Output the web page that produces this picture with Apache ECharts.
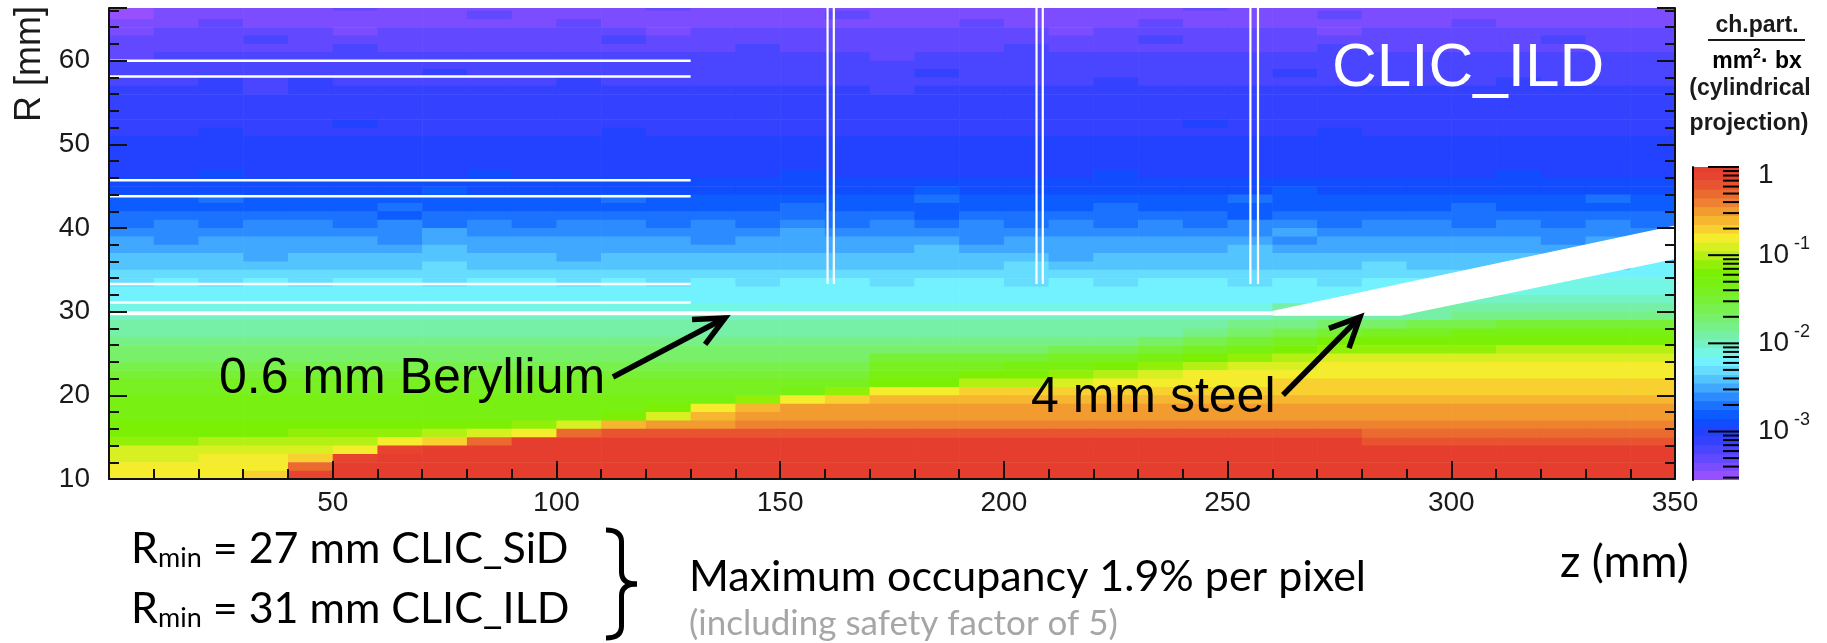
<!DOCTYPE html>
<html>
<head>
<meta charset="utf-8">
<title>CLIC_ILD occupancy</title>
<script src="https://cdn.jsdelivr.net/npm/echarts@6.0.0/dist/echarts.min.js"></script>
<style>
  html, body { margin: 0; padding: 0; background: #fff; }
  #chart { width: 1827px; height: 643px; }
</style>
</head>
<body>
<div id="chart"></div>
<script>
// z bin edges (mm)
const zEdges = [0, 10, 20, 30, 40, 50, 60, 70, 80, 90, 100, 110, 120, 130, 140, 150, 160, 170,
  180, 190, 200, 210, 220, 230, 240, 250, 260, 270, 280, 290, 300, 310, 320, 330, 340, 350];

// one char per z bin, '0' = 10^-3.5 ... 'z' = 1 (steps of 0.1 decade)
const levelCodes = '0123456789abcdefghijklmnopqrstuvwxyz';

// [R low edge (mm), levels along z]
const levelRows = [
  [66, '01111 21111 11211 11111 11112 11111 11111'],
  [65, '01111 11121 11111 12111 11111 11211 11111'],
  [64, '11211 11111 21111 11112 11121 11111 21111'],
  [63, '12222 12222 22122 22222 21222 22122 22222'],
  [62, '22232 22222 23222 22222 22232 22222 22322'],
  [61, '22222 32222 22223 22222 32222 22322 22222'],
  [60, '23333 33333 33333 33233 33333 33333 33333'],
  [59, '33333 33333 33333 33333 33333 33333 33333'],
  [58, '33333 33433 33333 33343 33333 34333 33333'],
  [57, '33434 33333 43333 33333 33433 33333 34333'],
  [56, '44434 44444 44444 44344 44444 44444 44444'],
  [55, '44444 44444 44444 44444 44444 44444 44444'],
  [54, '44444 44444 44444 44444 44444 44444 44444'],
  [53, '44444 44444 44444 44444 44444 44444 44444'],
  [52, '44444 54444 44444 44444 44445 44444 44444'],
  [51, '44544 44444 45444 44444 44444 44544 44444'],
  [50, '55555 55555 55555 55555 55555 55555 55555'],
  [49, '55555 55555 55555 55555 55555 55555 55555'],
  [48, '55555 55555 55555 55555 55555 55555 55555'],
  [47, '55555 55555 55555 55555 55555 55555 55555'],
  [46, '55655 55565 55555 65555 55655 55555 56555'],
  [45, '66666 66666 66666 66666 66666 66666 66666'],
  [44, '66666 66766 66666 66676 66666 67666 66666'],
  [43, '77877 77777 78777 77787 77777 87777 77787'],
  [42, '77777 78777 77777 87777 77877 77777 87777'],
  [41, '88888 87888 88888 88878 88888 78888 88888'],
  [40, '89899 89898 99898 98989 89898 99899 89898'],
  [39, '99999 99a99 99999 a9999 99999 9a999 99999'],
  [38, 'a9aaa a9aaa aaa9a aaaa9 aaaaa a9aaa aa9aa'],
  [37, 'aaaaa aabaa aaaaa aaaba aaaaa baaaa aaaab'],
  [36, 'bbbab bbbbb abbbb bbbbb babbb bbbbb bbabb'],
  [35, 'bbbbb bbcbb bbbbb bbbbb cbbbb bbbcb bbbbd'],
  [34, 'ccccc ccccc ccccc ccccc ccccc ccccc cccdd'],
  [33, 'cdcdc ddcdd cdcdc ddcdd cdcdd cdcdd ddeee'],
  [32, 'ddddd ddddd ddddd ddddd ddddd ddddd deeee'],
  [31, 'ddddd ddddd ddddd ddddd ddddd ddddf fffff'],
  [30, 'eeeee eeeee eeeee eeeee eeeee egggg ggggg'],
  [29, 'fffff fffff fffff fffff fffff fgggg hhhhh'],
  [28, 'ggggg ggggg ggggg ggggg ggggg hhiij jkkkk'],
  [27, 'ggggg ggggg ggggg ggggg ggggh ijkll mmmmm'],
  [26, 'hhhhh hhhhh hhhhh hhhhh hhhij klnnn nnnnn'],
  [25, 'iiiii iiiii iiiii iiiii ijjkl mnooo opppp'],
  [24, 'iiiii iiiii iiiii iikkk kllmn opqqq qqqqq'],
  [23, 'jjjjj jjjjj jjjjj jjlll mmnop qqrrr rrrrr'],
  [22, 'kkkkk kkkkk kkkkk kkmmn nopqr rrrrr rrrrr'],
  [21, 'lllll lllll lllll llnnp pqrrr rssss sssss'],
  [20, 'lllll lllll lllll morrs sssss sssss sssss'],
  [19, 'mmmmm mmmmm mmmmo rsttt ttttt ttttt ttttt'],
  [18, 'mmmmm mmmmm mmnrt uuuuu uuuuu uuuuu uuuuu'],
  [17, 'mmmmm mmmmm mnqtu uuuuu uuuuu uuuuu uuuuu'],
  [16, 'nnnnn nnnno qtuuv vvvvv vvvvv vvvvv vvvvv'],
  [15, 'nnnno oopqr wxxxx xxxxx xxxxx xxxww wwwww'],
  [14, 'ooppp prswz zzzzz zzzzz zzzzz zzzxx xxxxx'],
  [13, 'qqqqq ryzzz zzzzz zzzzz zzzzz zzzzz zzzzz'],
  [12, 'qqrrs yzzzz zzzzz zzzzz zzzzz zzzzz zzzzz'],
  [11, 'rrrrw zzzzz zzzzz zzzzz zzzzz zzzzz zzzzz'],
  [10, 'rrrsy zzzzz zzzzz zzzzz zzzzz zzzzz zzzzz']
];

// ROOT-like rainbow, one colour per level char
const paletteColors = [
  '#9650ff', '#7c4dff', '#6249ff', '#4a45ff', '#3442ff', '#2242ff', '#124cff', '#0c5cff',
  '#1a72ff', '#2c8cff', '#40a8ff', '#54c4ff', '#66dcff', '#72f2ff', '#74f6e4', '#74f2c4',
  '#76f0a6', '#78f088', '#78f06a', '#78f04e', '#78f036', '#78f022', '#78f012', '#7cf004',
  '#92f008', '#b4f014', '#d8f022', '#f4ec2c', '#f8d030', '#f6b630', '#f29c30', '#ee8230',
  '#ea6a30', '#e85430', '#e6442f', '#e63e2e'
];
const scaleMin = -3.55;  // log10 at the bottom of the colour bar

// detector material, drawn in white
const layerR = [60.0, 58.1, 45.7, 43.8, 33.3, 31.1];
const layerZEnd = 130;
const diskZ = [160.6, 162.0, 207.3, 208.7, 255.1, 256.8];
const diskRMin = 33.3;
const pipeR = 29.8;
const pipeZEnd = 260.2;
const coneZ = [260.2, 350, 350, 288.6, 260.2];
const coneR = [30.1, 40.3, 36.3, 29.5, 29.5];

const rMin = 10;
const rMax = 66.3;

// colour bar ticks
const scaleMajor = [0, -1, -2, -3];
const scaleExp = ['', '-1', '-2', '-3'];

const cells = [];
levelRows.forEach(([r, codes]) => {
  const row = codes.replace(/ /g, '');
  for (let c = 0; c < zEdges.length - 1; c++) {
    cells.push([zEdges[c], zEdges[c + 1], r, r + 1, levelCodes.indexOf(row[c])]);
  }
});

const barCells = paletteColors.map((color, i) => {
  const lo = scaleMin + i * 0.1;
  return [0, 1, lo, lo + 0.1, i];
});

const scaleTicks = scaleMajor.map((v, i) => [v, 1, i]);
for (let d = -4; d < 0; d++) {
  for (let k = 2; k <= 9; k++) {
    const v = d + Math.log10(k);
    if (v > scaleMin && v < 0) scaleTicks.push([v, 0, -1]);
  }
}

const layerSegs = layerR.map(r => [0, r, layerZEnd, r]);
const diskSegs = diskZ.map(z => [z, diskRMin, z, rMax]);
const pipeSegs = [[0, pipeR, pipeZEnd, pipeR]];

const helv = 'Liberation Sans';
const slide = 'Lato';
const ink = '#1a1a1a';

function renderCell(params, api) {
  const p0 = api.coord([api.value(0), api.value(2)]);
  const p1 = api.coord([api.value(1), api.value(3)]);
  return {
    type: 'rect',
    shape: { x: p0[0], y: p1[1], width: p1[0] - p0[0] + 0.6, height: p0[1] - p1[1] + 0.6 },
    style: { fill: api.visual('color') }
  };
}

function segmentRenderer(width) {
  return function (params, api) {
    const a = api.coord([api.value(0), api.value(1)]);
    const b = api.coord([api.value(2), api.value(3)]);
    return {
      type: 'line',
      shape: { x1: a[0], y1: a[1], x2: b[0], y2: b[1] },
      style: { stroke: '#fff', lineWidth: width }
    };
  };
}

function renderCone(params, api) {
  const pts = coneZ.map((z, i) => api.coord([z, coneR[i]]));
  return { type: 'polygon', shape: { points: pts }, style: { fill: '#fff' } };
}

function renderScaleTick(params, api) {
  const v = api.value(0);
  const major = api.value(1) === 1;
  const p = api.coord([1, v]);
  const len = major ? 31 : 16;
  const children = [{
    type: 'line',
    shape: { x1: p[0] - len, y1: p[1], x2: p[0], y2: p[1] },
    style: { stroke: '#000', lineWidth: 2 }
  }];
  if (major) {
    const exp = scaleExp[api.value(2)];
    if (exp === '') {
      children.push({ type: 'text', x: p[0] + 19, y: p[1] + 8,
        style: { text: '1', fontFamily: helv, fontSize: 28, fill: ink, verticalAlign: 'middle' } });
    } else {
      children.push({ type: 'text', x: p[0] + 19, y: p[1],
        style: { text: '10', fontFamily: helv, fontSize: 28, fill: ink, verticalAlign: 'middle' } });
      children.push({ type: 'text', x: p[0] + 55, y: p[1] - 11,
        style: { text: exp, fontFamily: helv, fontSize: 18, fill: ink, verticalAlign: 'middle' } });
    }
  }
  return { type: 'group', children };
}

function arrow(from, to) {
  const dx = to[0] - from[0], dy = to[1] - from[1];
  const len = Math.hypot(dx, dy);
  const bx = -dx / len, by = -dy / len;
  const head = 33, a = 0.44;
  const arm = s => [to[0] + head * (bx * Math.cos(s * a) - by * Math.sin(s * a)),
                    to[1] + head * (bx * Math.sin(s * a) + by * Math.cos(s * a))];
  const style = { stroke: '#000', lineWidth: 5.5, fill: null, lineJoin: 'miter' };
  return {
    type: 'group',
    children: [
      { type: 'polyline', z: 60, shape: { points: [from, to] }, style },
      { type: 'polyline', z: 60, shape: { points: [arm(1), to, arm(-1)] }, style }
    ]
  };
}

// right curly brace: x from left to tip, y from top to bottom
function brace(x0, x1, y0, y1) {
  const xm = (x0 + x1) / 2, ym = (y0 + y1) / 2, r = 12;
  const style = { stroke: '#000', lineWidth: 5, fill: null };
  const seg = shape => ({ type: shape.cpx1 === undefined ? 'line' : 'bezierCurve', z: 60, shape, style });
  return {
    type: 'group',
    children: [
      seg({ x1: x0, y1: y0, cpx1: xm, cpy1: y0, x2: xm, y2: y0 + r }),
      seg({ x1: xm, y1: y0 + r, x2: xm, y2: ym - r }),
      seg({ x1: xm, y1: ym - r, cpx1: xm, cpy1: ym, x2: x1, y2: ym }),
      seg({ x1: x1, y1: ym, cpx1: xm, cpy1: ym, x2: xm, y2: ym + r }),
      seg({ x1: xm, y1: ym + r, x2: xm, y2: y1 - r }),
      seg({ x1: xm, y1: y1 - r, cpx1: xm, cpy1: y1, x2: x0, y2: y1 })
    ]
  };
}

function rminLine(text, y) {
  return {
    type: 'text', z: 50, x: 131, y: y,
    style: {
      text: '{r|R}{s|min}{r|' + text + '}', verticalAlign: 'top',
      rich: {
        r: { fontFamily: slide, fontSize: 43, color: '#000', lineHeight: 44, verticalAlign: 'top' },
        s: { fontFamily: slide, fontSize: 27, color: '#000', lineHeight: 27, padding: [28, 0, 0, 0], verticalAlign: 'bottom' }
      }
    }
  };
}

const axisCommon = {
  z: 10,
  splitLine: { show: false },
  axisLine: { show: true, onZero: false, lineStyle: { color: '#111', width: 2 } },
  axisTick: { inside: true, length: 18, lineStyle: { color: '#111', width: 2 } },
  minorTick: { show: true, splitNumber: 5, length: 10, lineStyle: { color: '#111', width: 2 } }
};

const chart = echarts.init(document.getElementById('chart'));
chart.setOption({
  animation: false,
  backgroundColor: '#fff',
  grid: [
    { left: 109, top: 8, width: 1566, height: 471, outerBoundsMode: 'none' },
    { left: 1693, top: 167, width: 46, height: 313, outerBoundsMode: 'none' }
  ],
  xAxis: [
    Object.assign({}, axisCommon, {
      type: 'value', gridIndex: 0, min: 0, max: 350, interval: 50,
      axisLabel: { showMinLabel: false, margin: 10, fontSize: 28, color: ink, fontFamily: helv }
    }),
    { type: 'value', gridIndex: 1, min: 0, max: 1, show: false }
  ],
  yAxis: [
    Object.assign({}, axisCommon, {
      type: 'value', gridIndex: 0, min: rMin, max: rMax, interval: 10,
      axisLabel: { showMaxLabel: false, margin: 19, fontSize: 28, color: ink, fontFamily: helv }
    }),
    Object.assign({}, axisCommon, {
      type: 'value', gridIndex: 0, position: 'right', min: rMin, max: rMax, interval: 10,
      axisLabel: { show: false }
    }),
    {
      type: 'value', gridIndex: 1, position: 'right', min: scaleMin, max: 0, z: 10,
      axisLine: { show: true, lineStyle: { color: '#000', width: 2 } },
      axisTick: { show: false }, axisLabel: { show: false }, splitLine: { show: false }
    }
  ],
  visualMap: {
    type: 'piecewise', show: false, dimension: 4, seriesIndex: [0, 1],
    pieces: paletteColors.map((color, i) => ({ value: i, color }))
  },
  series: [
    { type: 'custom', name: 'occupancy', xAxisIndex: 0, yAxisIndex: 0, clip: true, silent: true,
      encode: { x: [0, 1], y: [2, 3] }, renderItem: renderCell, data: cells },
    { type: 'custom', name: 'scale', xAxisIndex: 1, yAxisIndex: 2, clip: true, silent: true,
      encode: { x: [0, 1], y: [2, 3] }, renderItem: renderCell, data: barCells },
    { type: 'custom', name: 'scale ticks', xAxisIndex: 1, yAxisIndex: 2, silent: true, z: 12,
      encode: { y: 0 }, renderItem: renderScaleTick, data: scaleTicks },
    { type: 'custom', name: 'layers', xAxisIndex: 0, yAxisIndex: 0, clip: true, silent: true, z: 5,
      encode: { x: [0, 2], y: [1, 3] }, renderItem: segmentRenderer(2.5), data: layerSegs },
    { type: 'custom', name: 'disks', xAxisIndex: 0, yAxisIndex: 0, clip: true, silent: true, z: 5,
      encode: { x: [0, 2], y: [1, 3] }, renderItem: segmentRenderer(2.2), data: diskSegs },
    { type: 'custom', name: 'beam pipe', xAxisIndex: 0, yAxisIndex: 0, clip: true, silent: true, z: 5,
      encode: { x: [0, 2], y: [1, 3] }, renderItem: segmentRenderer(4), data: pipeSegs },
    { type: 'custom', name: 'cone', xAxisIndex: 0, yAxisIndex: 0, clip: true, silent: true, z: 5,
      encode: { x: 0, y: 1 }, renderItem: renderCone, data: [[coneZ[0], coneR[0]]] }
  ],
  graphic: [
    { type: 'text', z: 50, x: 30, y: 64, rotation: Math.PI / 2,
      style: { text: 'R [mm]', fontFamily: helv, fontSize: 36, fill: ink, align: 'center', verticalAlign: 'middle' } },
    { type: 'text', z: 50, x: 1332, y: 69,
      style: { text: 'CLIC_ILD', fontFamily: helv, fontSize: 62, fill: '#fff', verticalAlign: 'middle' } },
    { type: 'text', z: 50, x: 219, y: 379,
      style: { text: '0.6 mm Beryllium', fontFamily: helv, fontSize: 50, fill: '#000', verticalAlign: 'middle' } },
    { type: 'text', z: 50, x: 1031, y: 398,
      style: { text: '4 mm steel', fontFamily: helv, fontSize: 50, fill: '#000', verticalAlign: 'middle' } },
    arrow([613, 377], [725, 318]),
    arrow([1283, 395], [1360, 317]),

    // colour bar title
    { type: 'text', z: 50, x: 1757, y: 26,
      style: { text: 'ch.part.', fontFamily: helv, fontSize: 23, fontWeight: 'bold', fill: ink, align: 'center', verticalAlign: 'middle' } },
    { type: 'line', z: 50, shape: { x1: 1708, y1: 40, x2: 1805, y2: 40 }, style: { stroke: ink, lineWidth: 2 } },
    { type: 'text', z: 50, x: 1757, y: 60,
      style: { text: '{a|mm}{s|2}{a|· bx}', align: 'center', verticalAlign: 'middle',
        rich: {
          a: { fontFamily: helv, fontSize: 23, fontWeight: 'bold', color: ink, lineHeight: 26, verticalAlign: 'bottom' },
          s: { fontFamily: helv, fontSize: 14, fontWeight: 'bold', color: ink, lineHeight: 26, verticalAlign: 'top' }
        } } },
    { type: 'text', z: 50, x: 1750, y: 89,
      style: { text: '(cylindrical', fontFamily: helv, fontSize: 23, fontWeight: 'bold', fill: ink, align: 'center', verticalAlign: 'middle' } },
    { type: 'text', z: 50, x: 1749, y: 124,
      style: { text: 'projection)', fontFamily: helv, fontSize: 23, fontWeight: 'bold', fill: ink, align: 'center', verticalAlign: 'middle' } },

    // slide notes under the plot
    rminLine(' = 27 mm CLIC_SiD', 528),
    rminLine(' = 31 mm CLIC_ILD', 588),
    brace(606, 637, 530, 638),
    { type: 'text', z: 50, x: 689, y: 577,
      style: { text: 'Maximum occupancy 1.9% per pixel', fontFamily: slide, fontSize: 43, fill: '#000', verticalAlign: 'middle' } },
    { type: 'text', z: 50, x: 689, y: 624,
      style: { text: '(including safety factor of 5)', fontFamily: slide, fontSize: 35, fill: '#a6a6a6', verticalAlign: 'middle' } },
    { type: 'text', z: 50, x: 1560, y: 562,
      style: { text: 'z (mm)', fontFamily: slide, fontSize: 45, fill: '#000', verticalAlign: 'middle' } }
  ]
});
</script>
</body>
</html>
